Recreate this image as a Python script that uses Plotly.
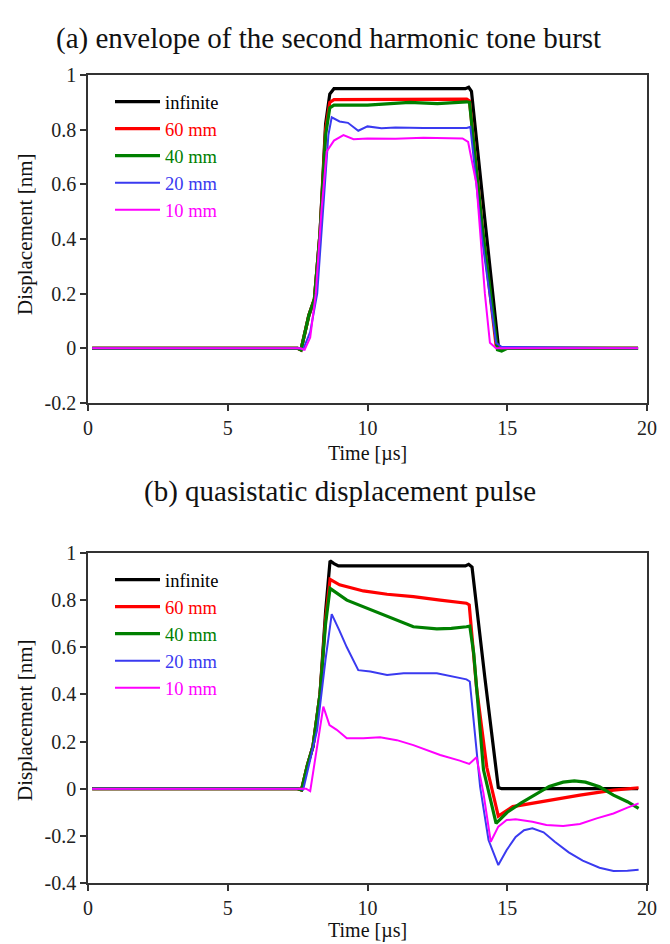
import plotly.graph_objects as go

# ---------------- data: panel (a) envelope of second harmonic tone burst ----------------
a_inf_x = [0.15, 7.5, 7.62, 7.9, 8.1, 8.3, 8.5, 8.65, 8.8, 10.0, 12.0, 13.5, 13.62, 13.72, 14.2, 14.68, 14.8, 19.68]
a_inf_y = [0.0, 0.0, -0.006, 0.12, 0.18, 0.42, 0.82, 0.93, 0.95, 0.95, 0.95, 0.95, 0.955, 0.94, 0.47, 0.01, 0.0, 0.0]

a_60_x = [0.15, 7.5, 7.62, 7.9, 8.1, 8.3, 8.5, 8.65, 8.8, 10.0, 12.0, 13.55, 13.65, 14.1, 14.6, 14.75, 19.68]
a_60_y = [0.0, 0.0, -0.006, 0.12, 0.18, 0.42, 0.8, 0.9, 0.91, 0.91, 0.91, 0.912, 0.905, 0.45, 0.01, 0.0, 0.0]

a_40_x = [0.15, 7.5, 7.62, 7.9, 8.1, 8.3, 8.5, 8.65, 8.8, 10.0, 11.5, 12.5, 13.55, 13.65, 14.1, 14.65, 14.8, 15.0, 19.68]
a_40_y = [0.0, 0.0, -0.006, 0.12, 0.18, 0.42, 0.78, 0.88, 0.89, 0.89, 0.9, 0.895, 0.902, 0.9, 0.45, -0.005, -0.01, 0.0, 0.0]

a_20_x = [0.15, 7.55, 7.7, 7.95, 8.2, 8.4, 8.6, 8.72, 9.0, 9.3, 9.67, 10.0, 10.5, 11.0, 12.0, 13.55, 13.68, 14.1, 14.6, 14.8, 19.68]
a_20_y = [0.0, 0.0, -0.004, 0.06, 0.2, 0.5, 0.78, 0.845, 0.83, 0.825, 0.796, 0.812, 0.805, 0.808, 0.806, 0.806, 0.81, 0.4, 0.02, 0.005, 0.0]

a_10_x = [0.15, 7.6, 7.75, 7.95, 8.15, 8.35, 8.54, 8.8, 9.14, 9.5, 10.0, 11.0, 12.0, 13.4, 13.6, 13.9, 14.2, 14.38, 14.6, 19.68]
a_10_y = [0.0, 0.0, -0.005, 0.04, 0.2, 0.5, 0.72, 0.76, 0.78, 0.765, 0.768, 0.767, 0.77, 0.768, 0.755, 0.6, 0.2, 0.02, 0.0, 0.0]

# ---------------- data: panel (b) quasistatic displacement pulse ----------------
b_inf_x = [0.15, 7.5, 7.64, 7.85, 8.05, 8.3, 8.5, 8.66, 8.8, 8.96, 10.0, 12.0, 13.5, 13.62, 13.74, 14.2, 14.68, 14.8, 19.68]
b_inf_y = [0.0, 0.0, -0.005, 0.1, 0.18, 0.4, 0.75, 0.967, 0.955, 0.945, 0.945, 0.945, 0.945, 0.952, 0.94, 0.47, 0.005, 0.0, 0.0]

b_60_x = [0.15, 7.5, 7.64, 7.85, 8.05, 8.3, 8.5, 8.66, 9.0, 9.85, 10.7, 11.64, 12.6, 13.54, 13.64, 13.9, 14.27, 14.68, 15.2, 16.4, 17.6, 18.8, 19.7]
b_60_y = [0.0, 0.0, -0.005, 0.1, 0.18, 0.4, 0.72, 0.888, 0.865, 0.839, 0.825, 0.815, 0.8, 0.787, 0.78, 0.43, 0.09, -0.116, -0.076, -0.05, -0.027, -0.006, 0.004]

b_40_x = [0.15, 7.5, 7.64, 7.85, 8.05, 8.3, 8.5, 8.66, 9.26, 10.45, 11.64, 12.48, 13.0, 13.54, 13.66, 13.8, 14.15, 14.6,
          15.0, 15.5, 16.0, 16.5, 17.0, 17.4, 17.8, 18.3, 18.8, 19.3, 19.7]
b_40_y = [0.0, 0.0, -0.005, 0.1, 0.18, 0.4, 0.7, 0.85, 0.8, 0.744, 0.687, 0.678, 0.68, 0.687, 0.69, 0.575, 0.08, -0.147,
          -0.1, -0.06, -0.025, 0.01, 0.028, 0.033, 0.028, 0.008, -0.027, -0.055, -0.083]

b_20_x = [0.15, 7.55, 7.7, 7.9, 8.2, 8.5, 8.72, 9.0, 9.26, 9.67, 10.1, 10.7, 11.29, 12.48, 13.54, 13.66, 14.03, 14.33, 14.68,
          14.98, 15.3, 15.6, 15.9, 16.3, 16.7, 17.2, 17.7, 18.3, 18.8, 19.3, 19.7]
b_20_y = [0.0, 0.0, -0.004, 0.1, 0.25, 0.55, 0.741, 0.67, 0.6, 0.503, 0.497, 0.482, 0.49, 0.49, 0.464, 0.455, 0.008, -0.218, -0.324,
          -0.26, -0.205, -0.176, -0.168, -0.185, -0.225, -0.27, -0.305, -0.335, -0.349, -0.348, -0.344]

b_10_x = [0.15, 7.8, 7.95, 8.1, 8.25, 8.42, 8.64, 8.9, 9.26, 9.85, 10.45, 11.05, 11.64, 12.6, 13.3, 13.64, 13.9, 14.15, 14.41,
          14.68, 14.98, 15.3, 15.9, 16.4, 17.0, 17.6, 18.2, 18.8, 19.3, 19.7]
b_10_y = [0.0, 0.0, -0.01, 0.1, 0.22, 0.348, 0.27, 0.25, 0.214, 0.214, 0.218, 0.206, 0.185, 0.143, 0.119, 0.105, 0.133, -0.02, -0.225,
          -0.161, -0.133, -0.13, -0.14, -0.154, -0.158, -0.15, -0.126, -0.105, -0.08, -0.062]

names = ["infinite", "60 mm", "40 mm", "20 mm", "10 mm"]
colors = ["#000000", "#ff0000", "#008000", "#3a3af0", "#ff00ff"]
widths = [3.2, 3.2, 3.2, 2.0, 2.0]

panel_a = [(a_inf_x, a_inf_y), (a_60_x, a_60_y), (a_40_x, a_40_y), (a_20_x, a_20_y), (a_10_x, a_10_y)]
panel_b = [(b_inf_x, b_inf_y), (b_60_x, b_60_y), (b_40_x, b_40_y), (b_20_x, b_20_y), (b_10_x, b_10_y)]

FONT = "Liberation Serif, Times New Roman, serif"

fig = go.Figure()

for i, (x, y) in enumerate(panel_a):
    fig.add_trace(go.Scatter(
        x=x, y=y, mode="lines", xaxis="x", yaxis="y",
        line=dict(color=colors[i], width=widths[i]),
        name=f"<span style='color:{colors[i]}'>{names[i]}</span>",
        legend="legend", legendgroup=f"a{i}",
    ))
for i, (x, y) in enumerate(panel_b):
    fig.add_trace(go.Scatter(
        x=x, y=y, mode="lines", xaxis="x2", yaxis="y2",
        line=dict(color=colors[i], width=widths[i]),
        name=f"<span style='color:{colors[i]}'>{names[i]}</span>",
        legend="legend2", legendgroup=f"b{i}",
    ))

W, H = 670, 944
x0, x1 = 88 / W, 647 / W
ya = [1 - 403 / H, 1 - 75 / H]
yb = [1 - 883 / H, 1 - 553 / H]

axis_common = dict(
    showline=True, linecolor="#333333", linewidth=1.5, mirror=True,
    ticks="outside", ticklen=6, tickwidth=1.5, tickcolor="#333333",
    showgrid=False, zeroline=False, automargin=False,
    tickfont=dict(family=FONT, size=20, color="#222222"),
)

legend_common = dict(
    xanchor="left", yanchor="top", bgcolor="rgba(255,255,255,0)",
    font=dict(family=FONT, size=18.5), tracegroupgap=0, itemwidth=45,
)

fig.update_layout(
    template="none",
    width=W, height=H, autosize=False,
    margin=dict(l=0, r=0, t=0, b=0, pad=0, autoexpand=False),
    paper_bgcolor="white", plot_bgcolor="white",
    font=dict(family=FONT, color="#222222"),
    showlegend=True,
    xaxis=dict(domain=[x0, x1], anchor="y", range=[0, 20], tickvals=[0, 5, 10, 15, 20], **axis_common),
    yaxis=dict(domain=ya, anchor="x", range=[-0.2, 1], tickvals=[-0.2, 0, 0.2, 0.4, 0.6, 0.8, 1],
               ticktext=["-0.2", "0", "0.2", "0.4", "0.6", "0.8", "1"], **axis_common),
    xaxis2=dict(domain=[x0, x1], anchor="y2", range=[0, 20], tickvals=[0, 5, 10, 15, 20], **axis_common),
    yaxis2=dict(domain=yb, anchor="x2", range=[-0.4, 1], tickvals=[-0.4, -0.2, 0, 0.2, 0.4, 0.6, 0.8, 1],
                ticktext=["-0.4", "-0.2", "0", "0.2", "0.4", "0.6", "0.8", "1"], **axis_common),
    legend=dict(x=110 / W, y=1 - 83 / H, **legend_common),
    legend2=dict(x=110 / W, y=1 - 561 / H, **legend_common),
)

def ann(text, x, y, size, angle=0):
    return dict(text=text, x=x / W, y=1 - y / H, xref="paper", yref="paper",
                xanchor="center", yanchor="middle", showarrow=False, textangle=angle,
                font=dict(family=FONT, size=size, color="#111111"))

annotations = [
    ann("(a) envelope of the second harmonic tone burst", 328, 38, 29),
    ann("(b) quasistatic displacement pulse", 340, 491, 29),
    ann("Time [µs]", 367, 453, 20),
    ann("Time [µs]", 367, 930, 20),
    ann("Displacement [nm]", 25, 234, 21, -90),
    ann("Displacement [nm]", 25, 720, 21, -90),
]
fig.update_layout(annotations=annotations)

fig.write_html("out.html")
